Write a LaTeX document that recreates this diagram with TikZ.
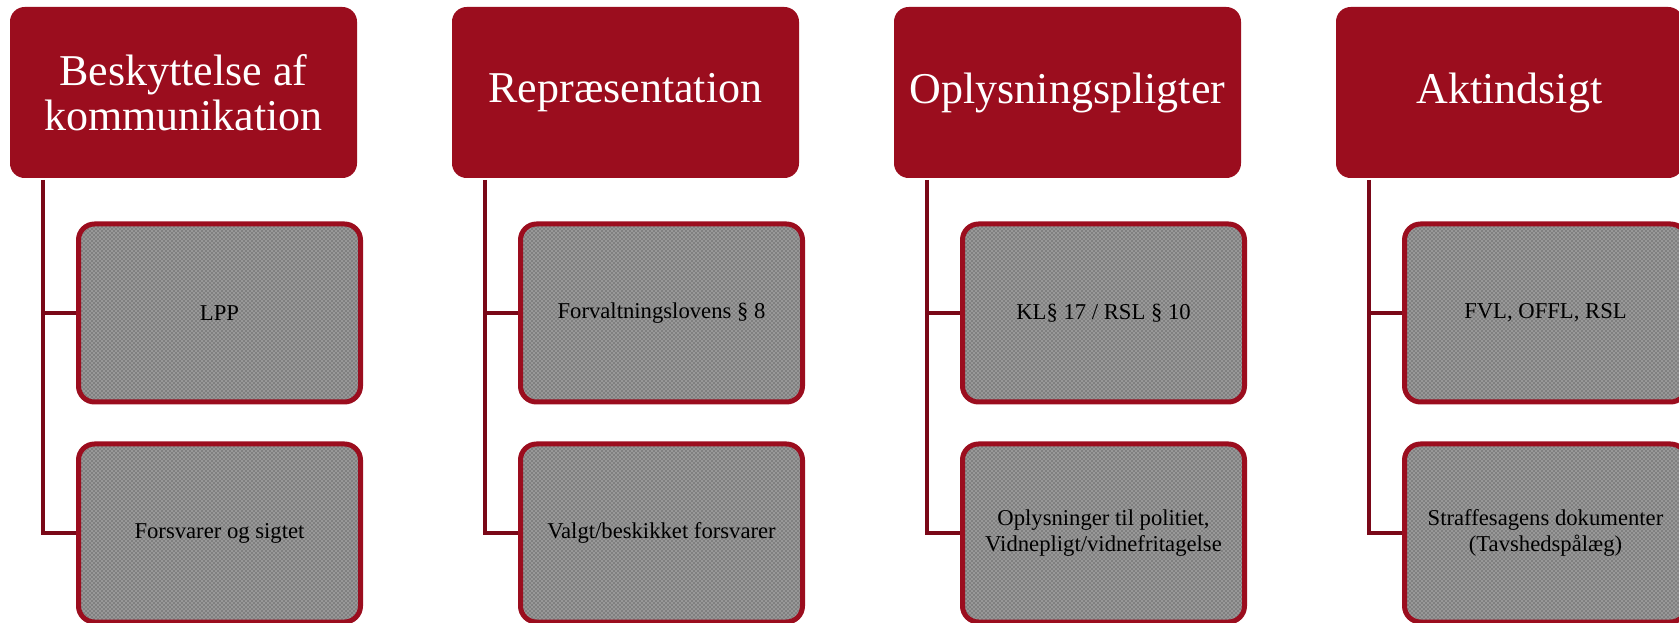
\documentclass[tikz,border=0pt]{standalone}
\usepackage{fontspec}
\setmainfont{Liberation Serif}
\usetikzlibrary{patterns}
\definecolor{boxred}{RGB}{155,13,30}
\definecolor{linkred}{RGB}{122,8,24}
\definecolor{dotgray}{RGB}{128,128,128}

\begin{document}
\begin{tikzpicture}[x=0.75pt,y=0.75pt,yscale=-1,xscale=1,
  header/.style={fill=boxred, rounded corners=11pt, inner sep=0pt, align=center,
    minimum width=260.25pt, minimum height=128.25pt, text=white,
    font=\fontsize{33}{34}\selectfont},
  item/.style={draw=boxred, line width=3.75pt, rounded corners=12pt, inner sep=0pt,
    preaction={fill=dotgray}, pattern=crosshatch dots, pattern color=white!85!dotgray,
    minimum width=211.5pt, minimum height=133.5pt, align=center,
    font=\fontsize{17}{19}\selectfont},
  link/.style={draw=linkred, line width=3pt, line join=miter}]
\clip (0,0) rectangle (1679,623);

%Rounded Rect: headers
\node[header] (h1) at (183.5,92.5) {Beskyttelse af\\kommunikation};
\node[header] (h2) at (625.5,92.5) {Repræsentation};
\node[header] (h3) at (1067.5,92.5) {Oplysningspligter};
\node[header] (h4) at (1509.5,92.5) {Aktindsigt};

%Rounded Rect: items
\node[item] (c11) at (219.5,313) {LPP};
\node[item] (c12) at (219.5,533) {Forsvarer og sigtet};
\node[item] (c21) at (661.5,313) {Forvaltningslovens § 8};
\node[item] (c22) at (661.5,533) {Valgt/beskikket forsvarer};
\node[item] (c31) at (1103.5,313) {KL§ 17 / RSL § 10};
\node[item] (c32) at (1103.5,533) {Oplysninger til politiet,\\Vidnepligt/vidnefritagelse};
\node[item] (c41) at (1545.5,313) {FVL, OFFL, RSL};
\node[item] (c42) at (1545.5,533) {Straffesagens dokumenter\\(Tavshedspålæg)};

%Straight Lines: trunks
\coordinate (t1) at (42.5,180);
\coordinate (t2) at (484.5,180);
\coordinate (t3) at (926.5,180);
\coordinate (t4) at (1368.5,180);
\draw[link] (t1) |- (c12.west);
\draw[link] (c11.west) -- (c11.west -| t1);
\draw[link] (t2) |- (c22.west);
\draw[link] (c21.west) -- (c21.west -| t2);
\draw[link] (t3) |- (c32.west);
\draw[link] (c31.west) -- (c31.west -| t3);
\draw[link] (t4) |- (c42.west);
\draw[link] (c41.west) -- (c41.west -| t4);

\end{tikzpicture}
\end{document}
